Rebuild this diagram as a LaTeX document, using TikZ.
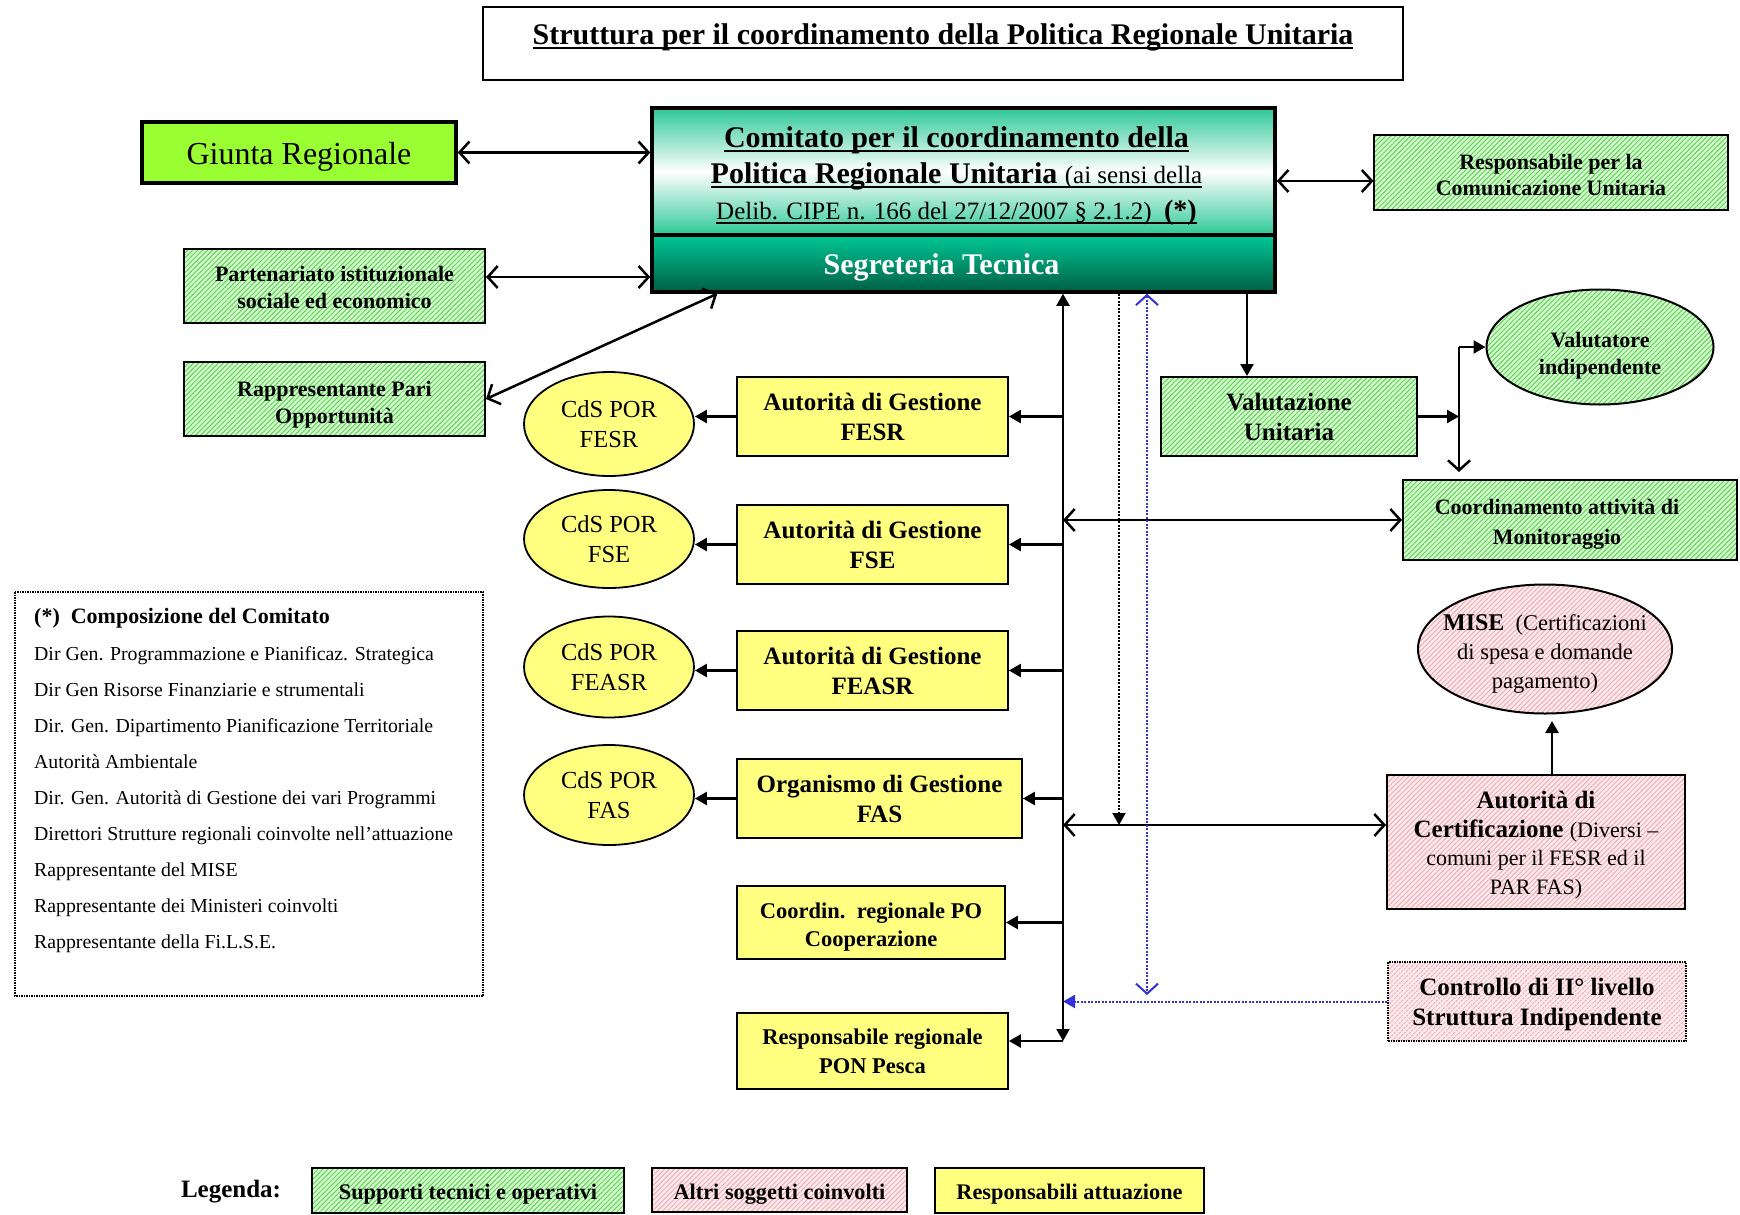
\documentclass[tikz,border=0pt]{standalone}
\usepackage{fontspec}
\setmainfont{Liberation Serif}
\usetikzlibrary{arrows.meta,shapes.geometric,patterns.meta,calc}
\definecolor{gbase}{RGB}{214,255,206}
\definecolor{gline}{RGB}{95,208,90}
\definecolor{pbase}{RGB}{255,236,238}
\definecolor{pline}{RGB}{240,172,180}
\definecolor{ylw}{RGB}{255,255,128}
\definecolor{giuntac}{RGB}{153,255,51}
\definecolor{teal1}{RGB}{45,200,150}
\definecolor{segtop}{RGB}{0,200,150}
\definecolor{segbot}{RGB}{0,95,68}
\definecolor{bluel}{RGB}{50,50,215}
\newcommand\fsz[2]{\fontsize{#1}{#2}\selectfont}
\newcommand\myul[1]{\setbox0=\hbox{#1}\rlap{\rule[-0.16em]{\wd0}{0.07em}}\box0}
\begin{document}
\begin{tikzpicture}[x=1pt,y=-1pt,
  box/.style={draw, line width=2pt, inner sep=0pt, align=center},
  lbl/.style={align=center, inner sep=0pt},
  gbox/.style={box, preaction={fill=gbase}, pattern={Lines[angle=45,distance=3.5pt,line width=1pt]}, pattern color=gline},
  pbox/.style={box, preaction={fill=pbase}, pattern={Lines[angle=45,distance=3.5pt,line width=1pt]}, pattern color=pline},
  ybox/.style={box, fill=ylw, line width=1.8pt},
  yell/.style={ellipse, draw, line width=1.8pt, fill=ylw, inner sep=0pt, align=center, minimum width=170pt, minimum height=100pt, font=\fsz{24.5}{30}},
  conn/.style={line width=2.5pt},
  dotl/.style={line width=2pt, dash pattern=on 2pt off 1.5pt},
  fend/.style={-{Triangle[length=12pt,width=13pt]}},
  fboth/.style={{Triangle[length=12pt,width=13pt]}-{Triangle[length=12pt,width=13pt]}},
  oboth/.style={{Straight Barb[length=10pt,width=22pt]}-{Straight Barb[length=10pt,width=22pt]}},
  oend/.style={-{Straight Barb[length=10pt,width=22pt]}}
]
\useasboundingbox (0,0) rectangle (1740,1215);
\fill[white] (0,0) rectangle (1740,1215);

% title
\node[draw, line width=1.5pt, minimum width=920pt, minimum height=73pt] (titlebox) at (943,43.5) {};
\node[font=\bfseries\fsz{30}{36}] (title) at (943,37) {\myul{Struttura per il coordinamento della Politica Regionale Unitaria}};

% top row
\node[box, line width=3.5pt, fill=giuntac, minimum width=314pt, minimum height=61pt] (giunta) at (299,152.5) {};
\node[lbl, font=\fsz{32}{38}] (giuntatxt) at (299,156.5) {Giunta Regionale};
\node[box, line width=3.5pt, top color=teal1, bottom color=teal1, middle color=white, minimum width=623pt, minimum height=127pt] (comitato) at (963.5,171.5) {};
\node[lbl, font=\fsz{30}{36}] (comitatotxt) at (956.5,176)
 {\myul{\bfseries Comitato per il coordinamento della}\\
  \myul{{\bfseries Politica Regionale Unitaria} {\fsz{25}{36}(ai sensi della}}\\
  \myul{{\fsz{25}{36}Delib. CIPE n. 166 del 27/12/2007 § 2.1.2)\ \ }{\bfseries\fsz{28}{36}(*)}}};
\node[box, line width=3.5pt, top color=segtop, bottom color=segbot, minimum width=623pt, minimum height=57pt] (segr) at (963.5,263.5) {};
\node[lbl, text=white, font=\bfseries\fsz{30}{36}] (segrtxt) at (941.5,267.5) {Segreteria Tecnica};
\node[gbox, minimum width=354pt, minimum height=75pt] (respcom) at (1551,172.5) {};
\node[lbl, font=\bfseries\fsz{22}{26}] (respcomtxt) at (1551,175.5) {Responsabile per la\\Comunicazione Unitaria};

% left supports
\node[gbox, minimum width=301pt, minimum height=74pt] (part) at (334.5,286) {};
\node[lbl, font=\bfseries\fsz{22}{27}] (parttxt) at (334.5,287.5) {Partenariato istituzionale\\sociale ed economico};
\node[gbox, minimum width=301pt, minimum height=74pt] (pari) at (334.5,399) {};
\node[lbl, font=\bfseries\fsz{22}{27}] (paritxt) at (334.5,404.5) {Rappresentante Pari\\Opportunità};

% yellow boxes
\node[ybox, minimum width=271pt, minimum height=79pt, font=\bfseries\fsz{25}{30}] (agfesr) at (872.5,416.5) {Autorità di Gestione\\FESR};
\node[ybox, minimum width=271pt, minimum height=79pt, font=\bfseries\fsz{25}{30}] (agfse) at (872.5,544.5) {Autorità di Gestione\\FSE};
\node[ybox, minimum width=271pt, minimum height=79pt, font=\bfseries\fsz{25}{30}] (agfeasr) at (872.5,670.5) {Autorità di Gestione\\FEASR};
\node[ybox, minimum width=285pt, minimum height=79pt, font=\bfseries\fsz{25}{30}] (ogfas) at (879.5,798.5) {Organismo di Gestione\\FAS};
\node[ybox, minimum width=268pt, minimum height=73pt] (coordpo) at (871,922.5) {};
\node[lbl, font=\bfseries\fsz{22.5}{28}] (coordpotxt) at (871,927) {Coordin.\ \ regionale PO\\Cooperazione};
\node[ybox, minimum width=271pt, minimum height=76pt, font=\bfseries\fsz{22.5}{29}] (pon) at (872.5,1051) {Responsabile regionale\\PON Pesca};

% ellipses CdS
\node[yell, minimum height=104pt] (cdsfesr) at (609,424) {CdS POR\\FESR};
\node[yell, minimum height=98pt] (cdsfse) at (609,539) {CdS POR\\FSE};
\node[yell, minimum height=101pt] (cdsfeasr) at (609,667) {CdS POR\\FEASR};
\node[yell, minimum height=100pt] (cdsfas) at (609,795) {CdS POR\\FAS};

% right side
\node[gbox, minimum width=256pt, minimum height=79pt, font=\bfseries\fsz{25}{30}] (val) at (1289,416.5) {Valutazione\\Unitaria};
\node[ellipse, draw, line width=2pt, inner sep=0pt, preaction={fill=gbase}, pattern={Lines[angle=45,distance=3.5pt,line width=1pt]}, pattern color=gline, minimum width=227pt, minimum height=115pt] (vind) at (1600,347) {};
\node[lbl, font=\bfseries\fsz{22}{27}] (vindtxt) at (1600,356) {Valutatore\\indipendente};
\node[gbox, minimum width=334pt, minimum height=80pt] (coord) at (1570,520) {};
\node[lbl, font=\bfseries\fsz{22}{30}] (coordtxt) at (1557,524) {Coordinamento attività di\\Monitoraggio};
\node[ellipse, draw, line width=2pt, inner sep=0pt, preaction={fill=pbase}, pattern={Lines[angle=45,distance=3.5pt,line width=1pt]}, pattern color=pline, minimum width=254pt, minimum height=129pt] (mise) at (1545,649) {};
\node[lbl, font=\fsz{22.5}{29}] (misetxt) at (1545,654) {{\bfseries\fsz{24}{29}MISE}\ \ (Certificazioni\\di spesa e domande\\pagamento)};
\node[pbox, minimum width=298pt, minimum height=134pt] (cert) at (1536,842) {};
\node[lbl, font=\fsz{25}{28.5}] (certtxt) at (1536,845)
 {{\bfseries Autorità di}\\{\bfseries Certificazione} {\fsz{22}{28.5}(Diversi –}\\{\fsz{22}{28.5}comuni per il FESR ed il}\\{\fsz{22}{28.5}PAR FAS)}};
\node[pbox, dash pattern=on 1.5pt off 1pt, minimum width=298pt, minimum height=79pt] (ctrl) at (1537,1001.5) {};
\node[lbl, font=\bfseries\fsz{25}{30}] (ctrltxt) at (1537,1004.5) {Controllo di II° livello\\Struttura Indipendente};

% composition box
\draw[line width=2pt, dash pattern=on 1.5pt off 1pt] (15,592) rectangle (483,996);
\node[anchor=base west, inner sep=0pt, font=\bfseries\fsz{22}{26}] (comphead) at (34,623) {(*)\ \ Composizione del Comitato};
\foreach \t [count=\i] in {Dir Gen. Programmazione e Pianificaz. Strategica,
  Dir Gen Risorse Finanziarie e strumentali,
  Dir. Gen. Dipartimento Pianificazione Territoriale,
  Autorità Ambientale,
  Dir. Gen. Autorità di Gestione dei vari Programmi,
  Direttori Strutture regionali coinvolte nell’attuazione,
  Rappresentante del MISE,
  Rappresentante dei Ministeri coinvolti,
  Rappresentante della Fi.L.S.E.}
  \node[anchor=base west, inner sep=0pt, font=\fsz{19.8}{24}] (compline\i) at (34,{660+36*(\i-1)}) {\t};

% legend
\node[font=\bfseries\fsz{25}{30}] (legenda) at (231,1192) {Legenda:};
\node[gbox, line width=1.8pt, minimum width=312pt, minimum height=45pt] (leg1) at (468,1190.5) {};
\node[lbl, font=\bfseries\fsz{22.3}{26}] (leg1txt) at (468,1194.5) {Supporti tecnici e operativi};
\node[pbox, line width=1.8pt, minimum width=255pt, minimum height=44pt] (leg2) at (779.5,1190) {};
\node[lbl, font=\bfseries\fsz{22.3}{26}] (leg2txt) at (779.5,1194) {Altri soggetti coinvolti};
\node[ybox, minimum width=269pt, minimum height=45pt] (leg3) at (1069.5,1190.5) {};
\node[lbl, font=\bfseries\fsz{22.3}{26}] (leg3txt) at (1069.5,1194.5) {Responsabili attuazione};

% ---------- connectors ----------
\draw[conn, oboth] (giunta.east) -- (giunta.east -| comitato.west);
\coordinate (pA) at ($(part.east)+(0,-9)$);
\draw[conn, oboth] (pA) -- (pA -| segr.west);
\coordinate (sP) at ($(segr.south west)+(67,0)$);
\draw[conn, oboth] (pari.east) -- (sP);
\coordinate (rC) at ($(respcom.west)+(0,8.5)$);
\draw[conn, oboth] (rC -| comitato.east) -- (rC);

% central spine
\coordinate (cbot) at (1063,1041);
\draw[line width=2pt, fboth] (cbot) -- (cbot |- segr.south);
\draw[conn, fend] (cbot) -- (cbot -| pon.east);
\foreach \n in {agfesr,agfse,agfeasr,ogfas,coordpo}
  \draw[conn, fend] (cbot |- \n.east) -- (\n.east);
\draw[conn, fend] (agfesr.west) -- (agfesr.west -| cdsfesr.east);
\draw[conn, fend] (agfse.west) -- (agfse.west -| cdsfse.east);
\draw[conn, fend] (agfeasr.west) -- (agfeasr.west -| cdsfeasr.east);
\draw[conn, fend] (ogfas.west) -- (ogfas.west -| cdsfas.east);

\draw[conn, oboth] (cbot |- coord.west) -- (coord.west);
\coordinate (cC) at ($(cert.west)+(0,-17)$);
\draw[conn, oboth] (cbot |- cC) -- (cC);

% dotted lines
\coordinate (dB) at (1119,825);
\draw[dotl, fend] (dB |- segr.south) -- (dB);
\coordinate (bB) at (1147,995);
\draw[dotl, bluel, oboth] (bB |- segr.south) -- (bB);
\draw[dotl, bluel, fend] (ctrl.west) -- (ctrl.west -| cbot);

% evaluation branch
\coordinate (vX) at (1247,377);
\draw[conn, fend] (vX |- segr.south) -- (vX |- val.north);
\coordinate (jT) at (1459,347);
\coordinate (jB) at (1459,472);
\draw[conn, fend] (val.east) -- (val.east -| jT);
\draw[conn, oend] (jT) -- (jB);
\draw[conn, fend] (jT) -- (jT -| vind.west);

% certification to MISE
\coordinate (mX) at (1552,721);
\draw[conn, fend] (mX |- cert.north) -- (mX);
\end{tikzpicture}
\end{document}
